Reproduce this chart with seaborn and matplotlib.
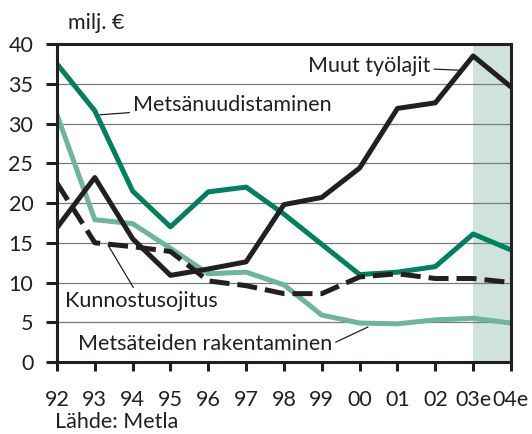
import matplotlib

matplotlib.use('Agg')

import matplotlib.pyplot as plt
import pandas as pd
import seaborn as sns

# data (milj. €)
years = ["92", "93", "94", "95", "96", "97", "98", "99", "00", "01", "02", "03e", "04e"]
metsanuudistaminen = [37.5, 31.6, 21.5, 17.0, 21.4, 22.0, 18.6, 14.8, 11.0, 11.3, 12.0, 16.1, 14.1]
muut_tyolajit = [16.9, 23.2, 15.5, 10.9, 11.7, 12.6, 19.8, 20.7, 24.4, 31.9, 32.6, 38.5, 34.6]
kunnostusojitus = [22.5, 15.0, 14.5, 13.9, 10.2, 9.6, 8.6, 8.6, 10.7, 11.1, 10.5, 10.5, 10.0]
metsateiden_rakentaminen = [31.1, 17.9, 17.4, 14.3, 11.1, 11.3, 9.7, 5.9, 4.9, 4.8, 5.3, 5.5, 4.9]
estimate_years = ["03e", "04e"]
y_ticks = [0, 5, 10, 15, 20, 25, 30, 35, 40]

BLACK = '#231f20'
DARK_GREEN = '#00805f'
LIGHT_GREEN = '#6db4a1'
SHADE = '#cfe3dc'

sns.set_style('white')
plt.rcParams['font.family'] = ['Lato', 'DejaVu Sans']

df = pd.DataFrame({
    'pos': list(range(len(years))),
    'Metsänuudistaminen': metsanuudistaminen,
    'Muut työlajit': muut_tyolajit,
    'Kunnostusojitus': kunnostusojitus,
    'Metsäteiden rakentaminen': metsateiden_rakentaminen,
})

fig = plt.figure(figsize=(5.32, 4.34), dpi=100)
ax = fig.add_axes([0.1071, 0.1659, 0.8534, 0.7327])

ax.axvspan(years.index(estimate_years[0]), years.index(estimate_years[1]),
           color=SHADE, lw=0, zorder=0)
for y in y_ticks[1:-1]:
    ax.axhline(y, color='#7a7a7a', lw=0.9, zorder=1)

lw = 3.6
sns.lineplot(data=df, x='pos', y='Metsäteiden rakentaminen', color=LIGHT_GREEN, lw=lw, ax=ax, zorder=3)
sns.lineplot(data=df, x='pos', y='Metsänuudistaminen', color=DARK_GREEN, lw=lw, ax=ax, zorder=4)
sns.lineplot(data=df, x='pos', y='Kunnostusojitus', color=BLACK, lw=lw, ax=ax, zorder=5,
             linestyle=(0, (4, 1.6)))
sns.lineplot(data=df, x='pos', y='Muut työlajit', color=BLACK, lw=lw, ax=ax, zorder=6)

ax.set_xlim(0, len(years) - 1)
ax.set_ylim(0, 40)
ax.set_xticks(range(len(years)))
ax.set_xticklabels(years)
ax.set_yticks(y_ticks)
ax.set_xlabel('')
ax.set_ylabel('')

for side in ['left', 'bottom', 'top', 'right']:
    ax.spines[side].set_visible(True)
    ax.spines[side].set_color(BLACK)
    ax.spines[side].set_linewidth(2.2)
    ax.spines[side].set_zorder(7)

fs = 15.5
ax.tick_params(axis='y', direction='out', length=8, width=2.2, color=BLACK,
               labelsize=fs, labelcolor=BLACK, pad=9, left=True)
ax.tick_params(axis='x', direction='out', length=6.5, width=2.2, color=BLACK,
               labelsize=fs, labelcolor=BLACK, pad=14, bottom=True)

lead = dict(arrowstyle='-', color=BLACK, lw=0.9, shrinkA=0, shrinkB=0)
ax.annotate('Metsänuudistaminen', xy=(1.14, 31.1), xytext=(2.0, 32.3),
            ha='left', va='center', fontsize=fs, color=BLACK, arrowprops=lead)
ax.annotate('Muut työlajit', xy=(10.65, 36.7), xytext=(9.88, 37.2),
            ha='right', va='center', fontsize=fs, color=BLACK, arrowprops=lead)
ax.annotate('Kunnostusojitus', xy=(1.35, 14.7), xytext=(0.21, 7.7),
            ha='left', va='center', fontsize=fs, color=BLACK, arrowprops=lead,
            annotation_clip=False)
ax.annotate('Metsäteiden rakentaminen', xy=(8.22, 4.4), xytext=(0.56, 2.3),
            ha='left', va='center', fontsize=fs, color=BLACK,
            arrowprops=dict(lead, relpos=(1.0, 0.5)))
ax.text(0.29, 42.6, 'milj. €', ha='left', va='center', fontsize=fs, color=BLACK, clip_on=False)
fig.text(55 / 532, 0.028, 'Lähde: Metla', ha='left', va='center', fontsize=fs, color=BLACK)

fig.savefig('out.png', dpi=100)
